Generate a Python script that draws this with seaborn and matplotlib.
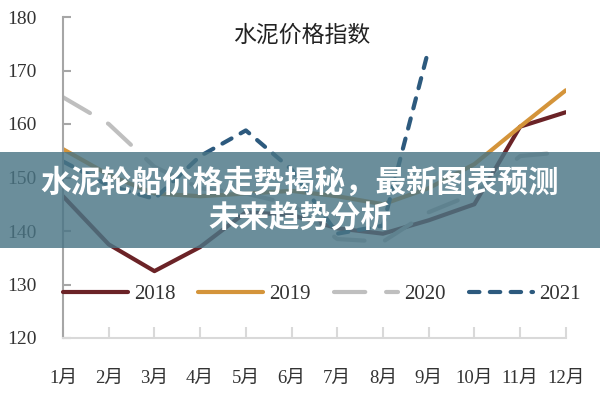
"""Cement price index by month, 2018-2021, with a banner overlay."""

import matplotlib
matplotlib.use("Agg")
import pandas as pd
import matplotlib.pyplot as plt
from matplotlib.patches import Rectangle
import seaborn as sns

MONTHS = ["1月", "2月", "3月", "4月", "5月", "6月",
          "7月", "8月", "9月", "10月", "11月", "12月"]
YEARS = ["2018", "2019", "2020", "2021"]

Y2018 = [146.5, 137.5, 132.5, 137.0, 143.5, 143.0, 140.5, 139.5, 142.0, 145.0, 159.5, 162.2]
Y2019 = [155.3, 150.5, 147.0, 146.5, 147.0, 147.5, 146.5, 145.0, 148.0, 152.5, 159.5, 166.3]
Y2020 = [165.0, 160.0, 152.0, 148.0, 147.0, 145.0, 138.5, 138.0, 143.5, 147.0, 154.0, 154.8]
Y2021 = [153.0, 148.5, 146.0, 154.0, 158.8, 151.5, 139.5, 141.0, 174.0]

YTICKS = [120, 130, 140, 150, 160, 170, 180]

TITLE = "水泥价格指数"
BANNER_1 = "水泥轮船价格走势揭秘，最新图表预测"
BANNER_2 = "未来趋势分析"

COLORS = {"2018": "#6b2327", "2019": "#d4943a", "2020": "#bfbfbf", "2021": "#2d5a7e"}
DASHES = {"2018": "", "2019": "", "2020": (7.5, 5), "2021": (2.5, 2.5)}


def build_frame() -> pd.DataFrame:
    rows = []
    for year, vals in zip(YEARS, [Y2018, Y2019, Y2020, Y2021]):
        for i, v in enumerate(vals):
            rows.append({"month": i, "value": v, "year": year})
    return pd.DataFrame(rows)


if __name__ == "__main__":
    sns.set_theme(style="white")
    plt.rcParams["font.family"] = ["Liberation Serif", "Noto Sans CJK SC"]

    df = build_frame()
    fig = plt.figure(figsize=(6, 4), dpi=100)
    ax = fig.add_axes([0.105, 0.155, 0.838, 0.8025])

    sns.lineplot(data=df, x="month", y="value", hue="year", style="year",
                 palette=COLORS, dashes=DASHES, linewidth=3, legend=False, ax=ax)
    for line in ax.lines:
        line.set_dash_capstyle("round")
        line.set_solid_capstyle("round")

    ax.set(xlim=(0, 11), ylim=(120, 180), xlabel="", ylabel="")
    ax.set_xticks(range(12), MONTHS)
    ax.set_yticks(YTICKS)
    for s in ["top", "right"]:
        ax.spines[s].set_visible(False)
    ax.spines["left"].set_color("#a6a6a6")
    ax.spines["left"].set_linewidth(1.5)
    ax.spines["bottom"].set_color("#d9d9d9")
    ax.spines["bottom"].set_linewidth(1.5)
    ax.tick_params(axis="y", direction="in", length=6, width=1.5, color="#a6a6a6",
                   pad=19, labelsize=14, labelcolor="#333333", left=True)
    ax.tick_params(axis="x", direction="in", length=8, width=1.5, color="#d9d9d9",
                   pad=23, labelsize=13.5, labelcolor="#333333", bottom=True)

    ax.legend(ax.lines, YEARS, ncol=4, frameon=False, loc="center left",
              bbox_to_anchor=(0.0, 0.135), handlelength=3.1, handletextpad=0.3,
              columnspacing=1.1, borderaxespad=0, borderpad=0, fontsize=15,
              labelcolor="#333333")

    fig.text(0.503, 0.9125, TITLE, ha="center", va="center", fontsize=16.5,
             color="#222222", family=["Noto Sans CJK SC"])

    # translucent banner across the middle
    fig.add_artist(Rectangle((0, 0.38), 1, 0.24, transform=fig.transFigure,
                             facecolor="#4a7585", alpha=0.82, edgecolor="none", zorder=5))
    fig.text(0.5, 0.5425, BANNER_1, ha="center", va="center", fontsize=22,
             color="white", weight="heavy", family=["Noto Sans CJK SC"], zorder=6)
    fig.text(0.5, 0.4525, BANNER_2, ha="center", va="center", fontsize=22,
             color="white", weight="heavy", family=["Noto Sans CJK SC"], zorder=6)

    fig.savefig("out.png", dpi=100)
    plt.close(fig)
